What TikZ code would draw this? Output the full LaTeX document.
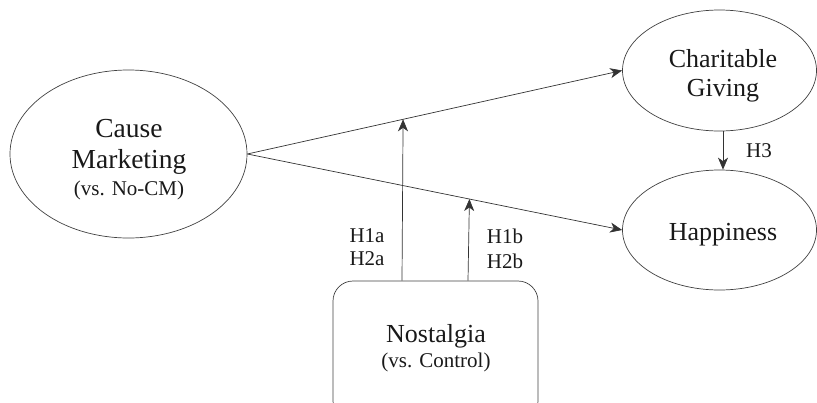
\documentclass[tikz,border=0pt]{standalone}
\usepackage{fontspec}
\setmainfont{Liberation Serif}
\usetikzlibrary{shapes.geometric,arrows.meta,calc}
\tikzset{
  oval/.style={draw=black!75, line width=0.7pt, ellipse, inner sep=0pt},
  big/.style={font=\fontsize{26}{31}\selectfont, anchor=base, inner sep=0pt, text=black!90},
  bigger/.style={font=\fontsize{27.5}{31}\selectfont, anchor=base, inner sep=0pt, text=black!90},
  small/.style={font=\fontsize{21}{23}\selectfont, anchor=base, inner sep=0pt, text=black!90},
  conn/.style={draw=black!80, line width=0.7pt, -{Stealth[length=12pt,width=10pt,inset=3.5pt]}},
}
\begin{document}
\begin{tikzpicture}[x=1pt,y=-1pt]
\useasboundingbox (0,0) rectangle (817,402);
\clip (0,0) rectangle (817,402);
% ellipses
\node[oval, minimum width=237, minimum height=168] (cm) at (128.5,154) {};
\node[oval, minimum width=194, minimum height=121] (cg) at (719.5,70.5) {};
\node[oval, minimum width=194, minimum height=120] (hp) at (719.5,230) {};
% nostalgia box
\node[draw=black!75, line width=0.7pt, rounded corners=20pt, minimum width=205, minimum height=140, inner sep=0pt] (nos) at (435.5,351) {};
% texts
\node[bigger] (t1) at (129,137) {Cause};
\node[bigger] (t2) at (129,168) {Marketing};
\node[small] (t3) at (129,195) {(vs. No-CM)};
\node[big] (t4) at (723,67) {Charitable};
\node[big] (t5) at (723,96) {Giving};
\node[big] (t6) at (723,240) {Happiness};
\node[big] (t7) at (436,342) {Nostalgia};
\node[small] (t8) at (436,367) {(vs. Control)};
\node[small] (h1a) at (367,242) {H1a};
\node[small] (h2a) at (367,265) {H2a};
\node[small] (h1b) at (505,243) {H1b};
\node[small] (h2b) at (505,268) {H2b};
\node[small] (h3) at (759,157) {H3};
% connectors
\draw[conn] (cm.east) -- (cg.west);
\draw[conn] (cm.east) -- (hp.west);
\draw[conn] (cg.south -| t4.base) -- (hp.north -| t4.base);
\coordinate (m1) at ($(cm.east)!0.4155!(cg.west)$);
\coordinate (m2) at ($(cm.east)!0.5925!(hp.west)$);
\draw[conn] ($(nos.north)+(-33.5,0)$) -- (m1);
\draw[conn] ($(nos.north)+(32.5,0)$) -- (m2);
\end{tikzpicture}
\end{document}
